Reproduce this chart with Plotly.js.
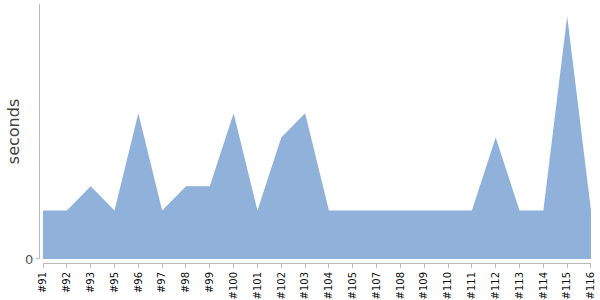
<!DOCTYPE html>
<html>
<head>
<meta charset="utf-8">
<script src="https://cdn.plot.ly/plotly-3.0.1.min.js"></script>
<style>html,body{margin:0;padding:0;background:#fff;}#chart{width:600px;height:300px;}</style>
</head>
<body>
<div id="chart"></div>
<script>
const builds = ["#91","#92","#93","#95","#96","#97","#98","#99","#100","#101","#102","#103","#104","#105","#107","#108","#109","#110","#111","#112","#113","#114","#115","#116"];
const seconds = [2,2,3,2,6,2,3,3,6,2,5,6,2,2,2,2,2,2,2,5,2,2,10,2];
const yTicks = [0];

const trace = {
  x: builds,
  y: seconds,
  type: 'scatter',
  mode: 'lines',
  fill: 'tozeroy',
  fillcolor: 'rgb(143,177,218)',
  line: {width: 0, color: 'rgb(143,177,218)'},
  hoverinfo: 'none'
};

const layout = {
  width: 600, height: 300,
  margin: {l: 39, r: 9, t: 4, b: 37},
  paper_bgcolor: '#fff', plot_bgcolor: '#fff',
  showlegend: false,
  font: {family: 'DejaVu Sans, sans-serif'},
  xaxis: {
    type: 'category',
    domain: [0.0073, 1],
    anchor: 'free', position: 0,
    range: [0, builds.length - 1],
    showline: true, linecolor: '#bbb', linewidth: 1,
    ticks: 'outside', ticklen: 4, tickcolor: '#bbb',
    tickangle: -90,
    tickfont: {size: 10, color: '#111'},
    showgrid: false, zeroline: false, automargin: false
  },
  yaxis: {
    domain: [0.0155, 1],
    anchor: 'free', position: 0,
    range: [0, 10.5],
    tickvals: yTicks,
    showline: true, linecolor: '#bbb', linewidth: 1,
    ticks: 'outside', ticklen: 3, tickcolor: '#bbb',
    tickfont: {size: 13, color: '#555'},
    title: {text: 'seconds', font: {size: 16, color: '#444'}, standoff: 0},
    showgrid: false, zeroline: false, automargin: true
  }
};

Plotly.newPlot('chart', [trace], layout, {staticPlot: true, displayModeBar: false});
</script>
</body>
</html>
